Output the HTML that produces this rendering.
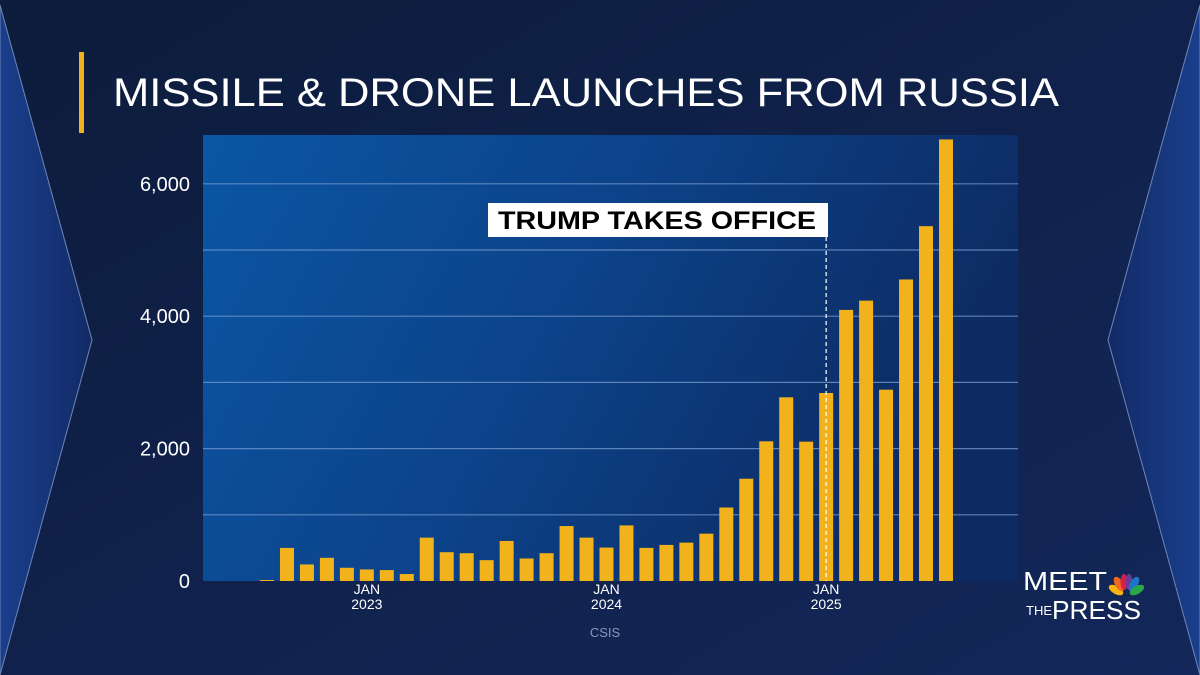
<!DOCTYPE html>
<html><head><meta charset="utf-8"><style>
html,body{margin:0;padding:0;background:#0e1c3a;}
svg{display:block;}
</style></head><body>
<svg width="1200" height="675" viewBox="0 0 1200 675" xmlns="http://www.w3.org/2000/svg">
<defs>
<linearGradient id="bg" x1="0" y1="0" x2="1" y2="1">
<stop offset="0" stop-color="#0d1c3c"/><stop offset="1" stop-color="#13275a"/></linearGradient>
<linearGradient id="plot" x1="0" y1="0" x2="1" y2="0.3">
<stop offset="0" stop-color="#0b56a4"/><stop offset="0.5" stop-color="#0c438a"/><stop offset="1" stop-color="#0d2b62"/></linearGradient>
<linearGradient id="side" x1="0" y1="0" x2="1" y2="0">
<stop offset="0" stop-color="#1a3f8c"/><stop offset="1" stop-color="#122a66"/></linearGradient>
<linearGradient id="sideR" x1="1" y1="0" x2="0" y2="0">
<stop offset="0" stop-color="#1a3f8c"/><stop offset="1" stop-color="#122a66"/></linearGradient>
</defs>
<rect x="0" y="0" width="1200" height="675" fill="url(#bg)"/>
<polygon points="0,5 92,340 0,675" fill="url(#side)" stroke="#6f86b8" stroke-width="1"/>
<polygon points="1200,5 1108,340 1200,675" fill="url(#sideR)" stroke="#6f86b8" stroke-width="1"/>
<rect x="79" y="52" width="5" height="81" fill="#f2b21b"/>
<text x="113" y="106" font-family="Liberation Sans, sans-serif" font-size="40" fill="#ffffff" textLength="946" lengthAdjust="spacingAndGlyphs">MISSILE &amp; DRONE LAUNCHES FROM RUSSIA</text>
<rect x="203" y="135" width="815" height="446" fill="url(#plot)"/>
<g id="grid"></g>
<g id="bars"></g>
<g id="ylabels"></g>
<g id="xlabels"></g>
<line id="trumpLine" x1="826" y1="237" x2="826" y2="581" stroke="#ffffff" stroke-width="1.2" stroke-dasharray="4,3"/>
<rect x="488" y="203" width="340" height="34" fill="#ffffff"/>
<text x="657" y="229" text-anchor="middle" font-family="Liberation Sans, sans-serif" font-weight="bold" font-size="25" fill="#000" textLength="318" lengthAdjust="spacingAndGlyphs">TRUMP TAKES OFFICE</text>
<text x="605" y="637" text-anchor="middle" font-family="Liberation Sans, sans-serif" font-size="13" fill="#8a97b5">CSIS</text>
<g>
<text x="1023" y="590" font-family="Liberation Sans, sans-serif" font-size="26" fill="#fff" textLength="84" lengthAdjust="spacingAndGlyphs">MEET</text>
<text x="1026" y="615" font-family="Liberation Sans, sans-serif" font-size="13" fill="#fff">THE</text>
<text x="1052" y="619" font-family="Liberation Sans, sans-serif" font-size="26" fill="#fff" textLength="89" lengthAdjust="spacingAndGlyphs">PRESS</text>
<g transform="translate(1126,593)">
<ellipse cx="-10" cy="-3" rx="4" ry="8" transform="rotate(-60 -10 -3)" fill="#f6b60f"/>
<ellipse cx="-7" cy="-9" rx="4" ry="8" transform="rotate(-30 -7 -9)" fill="#ef6a1f"/>
<ellipse cx="-2" cy="-11" rx="3.5" ry="8" fill="#d81f47"/>
<ellipse cx="3" cy="-11" rx="3.5" ry="8" fill="#6c3b96"/>
<ellipse cx="8" cy="-9" rx="4" ry="8" transform="rotate(30 8 -9)" fill="#1f74c8"/>
<ellipse cx="11" cy="-3" rx="4" ry="8" transform="rotate(60 11 -3)" fill="#29a84a"/>
</g>
</g>
</svg>
<script>
const values=[10,500,250,350,200,175,165,105,655,435,420,315,605,340,420,830,655,505,840,500,545,580,715,1110,1545,2110,2775,2105,2840,4095,4235,2890,4555,5360,6670];
const yTicks=[0,2000,4000,6000];
const gridVals=[1000,2000,3000,4000,5000,6000];
const xLabelIdx=[5,17,28];
const xLabelText=[["JAN","2023"],["JAN","2024"],["JAN","2025"]];
const NS="http://www.w3.org/2000/svg";
const y0=581, pxPer=0.0662, x0=260, step=19.97, bw=14;
function ys(v){return y0-v*pxPer;}
function xs(i){return x0+i*step;}
const g=document.getElementById('grid');
gridVals.forEach(v=>{const l=document.createElementNS(NS,'line');
l.setAttribute('x1',203);l.setAttribute('x2',1018);l.setAttribute('y1',ys(v));l.setAttribute('y2',ys(v));
l.setAttribute('stroke','#6f95cc');l.setAttribute('stroke-width','1.2');l.setAttribute('opacity','0.8');


g.appendChild(l);});
const b=document.getElementById('bars');
values.forEach((v,i)=>{const r=document.createElementNS(NS,'rect');
const h=Math.max(v*pxPer,1);
r.setAttribute('x',xs(i));r.setAttribute('width',bw);r.setAttribute('y',y0-h);r.setAttribute('height',h);
r.setAttribute('fill','#f2b21b');


b.appendChild(r);});
const yl=document.getElementById('ylabels');
yTicks.forEach(v=>{const t=document.createElementNS(NS,'text');
t.setAttribute('x',190);t.setAttribute('y',ys(v)+7);t.setAttribute('text-anchor','end');
t.setAttribute('font-family','Liberation Sans, sans-serif');t.setAttribute('font-size','20');t.setAttribute('fill','#ffffff');
t.textContent=v.toLocaleString('en-US');


yl.appendChild(t);});
const xl=document.getElementById('xlabels');
xLabelIdx.forEach((idx,k)=>{xLabelText[k].forEach((s,j)=>{const t=document.createElementNS(NS,'text');
t.setAttribute('x',xs(idx)+bw/2);t.setAttribute('y',594+j*15);t.setAttribute('text-anchor','middle');
t.setAttribute('font-family','Liberation Sans, sans-serif');t.setAttribute('font-size','14');t.setAttribute('fill','#ffffff');
t.textContent=s;


xl.appendChild(t);});});
const tl=document.getElementById('trumpLine');
tl.setAttribute('x1',xs(28)+bw/2);tl.setAttribute('x2',xs(28)+bw/2);
</script>
</body></html>
